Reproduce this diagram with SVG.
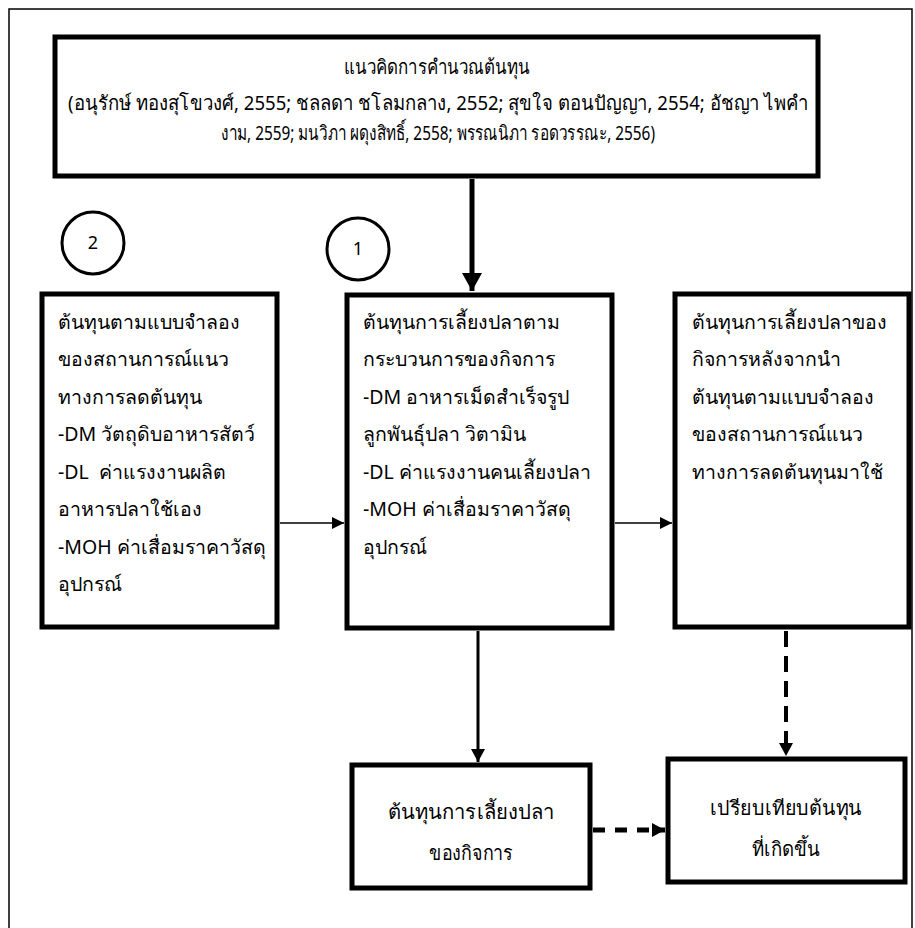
<svg xmlns="http://www.w3.org/2000/svg" width="915" height="928" viewBox="0 0 915 928">
<style>
.box{fill:#fff;stroke:#000;stroke-width:5}
.circ{fill:#fff;stroke:#000;stroke-width:3}
.t{font-family:"Noto Sans","DejaVu Sans",sans-serif;font-size:19.5px;fill:#000}
.tc{font-family:"Noto Sans","DejaVu Sans",sans-serif;font-size:20px;fill:#000;text-anchor:middle}
.num{font-family:"Noto Sans","DejaVu Sans",sans-serif;font-size:18px;fill:#000;text-anchor:middle}
.conn{fill:none;stroke:#000}
</style>
<defs>
<marker id="aBig" markerUnits="userSpaceOnUse" markerWidth="22" markerHeight="22" refX="18" refY="10" orient="auto"><path d="M0,0 L18,10 L0,20 Z" fill="#000"/></marker>
<marker id="aSm" markerUnits="userSpaceOnUse" markerWidth="14" markerHeight="14" refX="12" refY="6" orient="auto"><path d="M0,0 L12,6 L0,12 Z" fill="#000"/></marker>
<marker id="aMed" markerUnits="userSpaceOnUse" markerWidth="16" markerHeight="16" refX="13" refY="7" orient="auto"><path d="M0,0 L13,7 L0,14 Z" fill="#000"/></marker>
</defs>
<rect x="9" y="9" width="903" height="940" fill="#fff" stroke="#000" stroke-width="1.5"/>
<g id="connectors">
<line class="conn" x1="472" y1="179" x2="472" y2="291" stroke-width="5" marker-end="url(#aBig)"/>
<line class="conn" x1="280" y1="523" x2="344" y2="523" stroke-width="1.5" marker-end="url(#aSm)"/>
<line class="conn" x1="615" y1="523" x2="672" y2="523" stroke-width="1.5" marker-end="url(#aSm)"/>
<line class="conn" x1="478" y1="631" x2="478" y2="762" stroke-width="3" marker-end="url(#aMed)"/>
<line class="conn" x1="786" y1="631" x2="786" y2="756" stroke-width="4" stroke-dasharray="16 9" marker-end="url(#aMed)"/>
<line class="conn" x1="593" y1="830" x2="665" y2="830" stroke-width="5" stroke-dasharray="12 10" marker-end="url(#aMed)"/>
</g>
<g id="top">
<rect class="box" x="55" y="37" width="763" height="139" stroke-width="6"/>
<text class="tc" x="437" y="74" textLength="186" lengthAdjust="spacingAndGlyphs">แนวคิดการคำนวณต้นทุน</text>
<text class="tc" x="438" y="110" textLength="740" lengthAdjust="spacingAndGlyphs">(อนุรักษ์ ทองสุโขวงศ์, 2555; ชลลดา ชโลมกลาง, 2552; สุขใจ ตอนปัญญา, 2554; อัชญา ไพคำ</text>
<text class="tc" x="438" y="140" textLength="434" lengthAdjust="spacingAndGlyphs">งาม, 2559; มนวิภา ผดุงสิทธิ์, 2558; พรรณนิภา รอดวรรณะ, 2556)</text>
</g>
<g id="c2">
<circle class="circ" cx="93" cy="243" r="31"/>
<text class="num" x="93" y="249">2</text>
</g>
<g id="c1">
<circle class="circ" cx="358" cy="249" r="31"/>
<text class="num" x="358" y="255">1</text>
</g>
<g id="box2">
<rect class="box" x="42" y="294" width="235" height="333"/>
<text class="t" x="58" y="329">ต้นทุนตามแบบจำลอง</text>
<text class="t" x="58" y="366">ของสถานการณ์แนว</text>
<text class="t" x="58" y="404">ทางการลดต้นทุน</text>
<text class="t" x="58" y="441">-DM วัตถุดิบอาหารสัตว์</text>
<text class="t" x="58" y="479" xml:space="preserve">-DL  ค่าแรงงานผลิต</text>
<text class="t" x="58" y="516">อาหารปลาใช้เอง</text>
<text class="t" x="58" y="554">-MOH ค่าเสื่อมราคาวัสดุ</text>
<text class="t" x="58" y="591">อุปกรณ์</text>
</g>
<g id="box1">
<rect class="box" x="347" y="295" width="265" height="333"/>
<text class="t" x="363" y="329">ต้นทุนการเลี้ยงปลาตาม</text>
<text class="t" x="363" y="366">กระบวนการของกิจการ</text>
<text class="t" x="363" y="404">-DM อาหารเม็ดสำเร็จรูป</text>
<text class="t" x="363" y="441">ลูกพันธุ์ปลา วิตามิน</text>
<text class="t" x="363" y="479">-DL ค่าแรงงานคนเลี้ยงปลา</text>
<text class="t" x="363" y="516">-MOH ค่าเสื่อมราคาวัสดุ</text>
<text class="t" x="363" y="554">อุปกรณ์</text>
</g>
<g id="boxR">
<rect class="box" x="675" y="294" width="234" height="333"/>
<text class="t" x="692" y="329">ต้นทุนการเลี้ยงปลาของ</text>
<text class="t" x="692" y="366">กิจการหลังจากนำ</text>
<text class="t" x="692" y="404">ต้นทุนตามแบบจำลอง</text>
<text class="t" x="692" y="441">ของสถานการณ์แนว</text>
<text class="t" x="692" y="479">ทางการลดต้นทุนมาใช้</text>
</g>
<g id="boxBL">
<rect class="box" x="352" y="765" width="238" height="123"/>
<text class="tc" x="471" y="819" textLength="167" lengthAdjust="spacingAndGlyphs">ต้นทุนการเลี้ยงปลา</text>
<text class="tc" x="471" y="860" textLength="84" lengthAdjust="spacingAndGlyphs">ของกิจการ</text>
</g>
<g id="boxBR">
<rect class="box" x="668" y="759" width="237" height="123"/>
<text class="tc" x="786" y="815" textLength="152" lengthAdjust="spacingAndGlyphs">เปรียบเทียบต้นทุน</text>
<text class="tc" x="786" y="856" textLength="68" lengthAdjust="spacingAndGlyphs">ที่เกิดขึ้น</text>
</g>
</svg>
